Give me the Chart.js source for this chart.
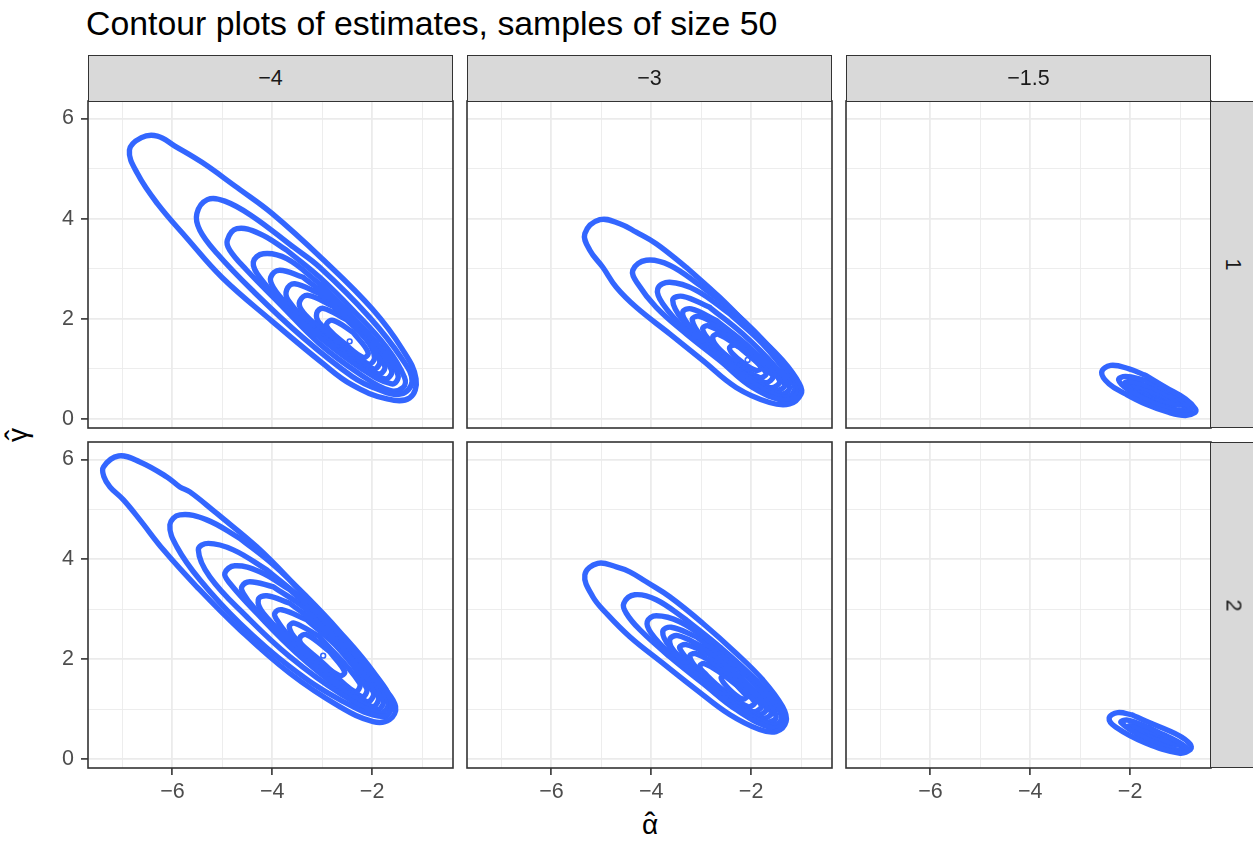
<!DOCTYPE html>
<html>
<head>
<meta charset="utf-8">
<script src="https://cdn.jsdelivr.net/npm/chart.js@4.4.1/dist/chart.umd.min.js"></script>
<style>
  html, body { margin: 0; padding: 0; background: #ffffff; }
  body { width: 1253px; height: 841px; position: relative; overflow: hidden;
         font-family: "Liberation Sans", Arial, Helvetica, sans-serif; }
  canvas { position: absolute; }
  .strip { position: absolute; background: #D9D9D9; border: 1.6px solid #333333; box-sizing: border-box;
           color: #1A1A1A; font-size: 21.5px; display: flex; align-items: center; justify-content: center; }
  .vtext { transform: rotate(90deg); white-space: nowrap; }
  #title { position: absolute; left: 86px; top: 6px; font-size: 33.8px; line-height: 34px; color: #000; white-space: nowrap; }
  #xtitle { position: absolute; left: 600px; width: 100px; top: 810px; text-align: center; font-size: 28px; line-height: 30px; color: #000; }
  #ytitle { position: absolute; left: -32px; width: 100px; top: 420px; text-align: center; font-size: 28px; line-height: 30px; color: #000; transform: rotate(-90deg); }
  .base { position: relative; display: inline-block; }
  .hat { position: absolute; left: 0; right: 0; top: -1px; text-align: center; font-size: 32px; }
</style>
</head>
<body>
<div id="title"></div>
<div id="xtitle"></div>
<div id="ytitle"></div>
<script>
// ---------------- data ----------------
const chartTitle = 'Contour plots of estimates, samples of size 50';
const xAxisTitle = ['α', 'ˆ'];   // alpha-hat
const yAxisTitle = ['γ', 'ˆ'];   // gamma-hat
const facetAlpha = ['\u22124', '\u22123', '\u22121.5'];   // column strips
const facetRow = ['1', '2'];                               // row strips
const xTickVals = [-7, -6, -5, -4, -3, -2, -1];
const xLabelVals = [-6, -4, -2];
const yTickVals = [0, 1, 2, 3, 4, 5, 6];
const yLabelVals = [0, 2, 4, 6];

// contour lines (alpha-hat, gamma-hat), panel alpha = -4, row 1
const contours_a4_s1 = [
  [[-6.86,5.37],[-6.62,5.62],[-6.3,5.65],[-5.95,5.45],[-5.4,5.12],[-4.7,4.62],[-4.0,4.1],[-3.0,3.2],[-2.0,2.2],[-1.4,1.4],[-1.12,0.8],[-1.25,0.42],[-1.7,0.4],[-2.4,0.68],[-3.0,1.12],[-4.0,1.95],[-5.0,2.82],[-5.7,3.6],[-6.3,4.3],[-6.7,4.9]],
  [[-5.51,4.1],[-5.3,4.38],[-4.95,4.35],[-4.4,4.05],[-3.6,3.45],[-3.05,3.03],[-2.05,2.03],[-1.4,1.2],[-1.2,0.75],[-1.42,0.5],[-1.9,0.6],[-2.4,0.85],[-3.4,1.64],[-4.4,2.57],[-5.1,3.3],[-5.45,3.77]],
  [[-4.9,3.57],[-4.71,3.8],[-4.25,3.7],[-3.71,3.37],[-3.05,2.83],[-2.38,2.17],[-1.71,1.43],[-1.35,0.83],[-1.38,0.63],[-1.65,0.57],[-2.25,0.9],[-3.05,1.5],[-3.85,2.3],[-4.51,2.97],[-4.85,3.37]],
  [[-4.38,3.13],[-4.18,3.3],[-3.71,3.2],[-3.05,2.7],[-2.38,2.03],[-1.78,1.37],[-1.48,0.87],[-1.61,0.7],[-2.25,1.03],[-3.05,1.63],[-3.71,2.23],[-4.25,2.83]],
  [[-4.03,2.83],[-3.85,2.97],[-3.38,2.83],[-2.71,2.3],[-2.05,1.63],[-1.61,0.97],[-1.75,0.8],[-2.38,1.17],[-3.05,1.7],[-3.71,2.3],[-3.98,2.63]],
  [[-3.71,2.58],[-3.55,2.7],[-3.05,2.5],[-2.38,1.88],[-1.75,1.07],[-1.88,0.9],[-2.51,1.3],[-3.18,1.83],[-3.68,2.37]],
  [[-3.45,2.35],[-3.28,2.47],[-2.78,2.25],[-2.25,1.75],[-1.85,1.17],[-1.98,1.0],[-2.58,1.43],[-3.18,1.93],[-3.41,2.17]],
  [[-3.11,2.11],[-2.98,2.21],[-2.51,1.98],[-2.11,1.58],[-1.95,1.23],[-2.08,1.1],[-2.58,1.5],[-3.05,1.91]],
  [[-2.91,1.9],[-2.78,1.97],[-2.38,1.73],[-2.08,1.33],[-2.18,1.23],[-2.58,1.53],[-2.85,1.77]]
];
const mode_a4_s1 = [-2.45, 1.55];

// panel alpha = -3, row 1
const contours_a3_s1 = [
  [[-5.33,3.7],[-5.03,3.98],[-4.63,3.9],[-4.3,3.73],[-3.9,3.5],[-3.3,3.03],[-2.63,2.43],[-1.97,1.77],[-1.37,1.17],[-1.03,0.7],[-1.0,0.5],[-1.23,0.3],[-1.63,0.33],[-2.3,0.63],[-2.97,1.17],[-3.63,1.7],[-4.3,2.23],[-4.7,2.63],[-4.97,3.03],[-5.23,3.37]],
  [[-4.37,2.97],[-4.1,3.17],[-3.63,3.07],[-2.97,2.63],[-2.3,2.1],[-1.63,1.43],[-1.13,0.77],[-1.07,0.53],[-1.3,0.37],[-1.97,0.63],[-2.63,1.17],[-3.3,1.7],[-3.9,2.23],[-4.27,2.7]],
  [[-3.87,2.6],[-3.63,2.73],[-3.1,2.57],[-2.43,2.1],[-1.77,1.5],[-1.23,0.83],[-1.13,0.57],[-1.37,0.43],[-1.97,0.73],[-2.63,1.23],[-3.3,1.77],[-3.77,2.3]],
  [[-3.57,2.37],[-3.37,2.45],[-2.83,2.23],[-2.17,1.7],[-1.5,1.03],[-1.23,0.63],[-1.43,0.5],[-2.1,0.87],[-2.83,1.43],[-3.37,1.97]],
  [[-3.37,2.13],[-3.2,2.2],[-2.7,1.97],[-2.03,1.43],[-1.33,0.7],[-1.53,0.57],[-2.23,0.97],[-2.97,1.57],[-3.27,1.9]],
  [[-3.18,1.98],[-3.03,2.05],[-2.57,1.8],[-1.9,1.23],[-1.43,0.77],[-1.63,0.63],[-2.37,1.1],[-2.97,1.63]],
  [[-2.97,1.8],[-2.85,1.86],[-2.37,1.6],[-1.57,0.87],[-1.73,0.73],[-2.43,1.2],[-2.83,1.57]],
  [[-2.77,1.63],[-2.65,1.69],[-2.23,1.43],[-1.7,0.93],[-1.83,0.83],[-2.37,1.17],[-2.67,1.43]],
  [[-2.43,1.43],[-2.3,1.47],[-2.03,1.3],[-1.8,1.03],[-1.9,0.97],[-2.17,1.13],[-2.37,1.3]]
];
const mode_a3_s1 = [-2.07, 1.18];

// panel alpha = -1.5, row 1
const contours_a15_s1 = [
  [[-2.57,0.93],[-2.39,1.07],[-2.02,1.0],[-1.69,0.87],[-1.29,0.63],[-0.89,0.4],[-0.69,0.2],[-0.7,0.13],[-0.89,0.07],[-1.22,0.13],[-1.69,0.3],[-2.09,0.5],[-2.42,0.7]],
  [[-2.23,0.78],[-2.09,0.85],[-1.69,0.77],[-1.15,0.5],[-0.79,0.2],[-0.95,0.13],[-1.49,0.3],[-2.02,0.57]],
  [[-2.1,0.71],[-1.99,0.75],[-1.55,0.63],[-0.85,0.23],[-1.02,0.17],[-1.69,0.4]],
  [[-1.99,0.67],[-1.49,0.53],[-0.95,0.27],[-1.62,0.4]],
  [[-1.85,0.6],[-1.4,0.47],[-1.02,0.28],[-1.5,0.37]],
  [[-1.7,0.52],[-1.3,0.42],[-1.08,0.3],[-1.4,0.36]]
];

// panel alpha = -4, row 2
const contours_a4_s2 = [
  [[-7.38,5.85],[-7.08,6.07],[-6.65,5.95],[-6.11,5.65],[-5.85,5.45],[-5.65,5.35],[-5.11,4.92],[-4.31,4.25],[-3.65,3.59],[-2.98,2.85],[-2.31,2.12],[-1.78,1.45],[-1.53,1.05],[-1.65,0.79],[-1.98,0.75],[-2.65,1.05],[-3.65,1.72],[-4.65,2.59],[-5.51,3.45],[-6.18,4.19],[-6.65,4.79],[-6.98,5.19],[-7.25,5.45],[-7.37,5.65]],
  [[-6.05,4.69],[-5.85,4.89],[-5.31,4.79],[-4.65,4.42],[-3.98,3.89],[-3.31,3.25],[-2.65,2.55],[-1.98,1.75],[-1.61,1.12],[-1.78,0.85],[-2.65,1.19],[-3.65,1.85],[-4.65,2.72],[-5.45,3.59],[-5.91,4.25]],
  [[-5.48,4.19],[-5.28,4.32],[-4.78,4.19],[-4.11,3.79],[-3.31,3.12],[-2.65,2.45],[-1.98,1.65],[-1.68,1.12],[-1.85,0.92],[-2.65,1.32],[-3.65,2.05],[-4.51,2.85],[-5.25,3.65]],
  [[-4.95,3.72],[-4.75,3.87],[-4.25,3.75],[-3.65,3.39],[-2.98,2.79],[-2.31,2.05],[-1.78,1.19],[-1.91,0.99],[-2.65,1.42],[-3.51,2.12],[-4.31,2.92],[-4.85,3.52]],
  [[-4.61,3.45],[-4.45,3.55],[-3.98,3.45],[-3.31,2.99],[-2.65,2.32],[-1.88,1.25],[-2.01,1.05],[-2.78,1.59],[-3.65,2.32],[-4.38,3.05],[-4.58,3.32]],
  [[-4.28,3.19],[-4.11,3.27],[-3.65,3.12],[-2.98,2.59],[-1.98,1.35],[-2.11,1.15],[-2.85,1.72],[-3.65,2.39],[-4.18,2.92]],
  [[-3.95,2.92],[-3.81,2.99],[-3.31,2.79],[-2.65,2.19],[-2.11,1.42],[-2.21,1.25],[-2.98,1.85],[-3.71,2.52],[-3.91,2.79]],
  [[-3.66,2.65],[-3.55,2.72],[-3.05,2.45],[-2.25,1.52],[-2.35,1.35],[-2.98,1.92],[-3.51,2.39]],
  [[-3.45,2.42],[-3.31,2.49],[-2.85,2.15],[-2.55,1.75],[-2.65,1.67],[-3.05,1.95],[-3.38,2.25]]
];
const mode_a4_s2 = [-2.98, 2.07];

// panel alpha = -3, row 2
const contours_a3_s2 = [
  [[-5.33,3.69],[-5.07,3.92],[-4.7,3.85],[-4.43,3.75],[-4.1,3.55],[-3.63,3.25],[-2.97,2.72],[-2.3,2.12],[-1.77,1.59],[-1.37,1.05],[-1.3,0.75],[-1.5,0.55],[-1.83,0.59],[-2.43,0.89],[-3.1,1.39],[-3.77,1.92],[-4.43,2.45],[-4.9,2.92],[-5.17,3.25]],
  [[-4.55,3.12],[-4.33,3.29],[-3.9,3.19],[-3.3,2.79],[-2.63,2.25],[-1.97,1.65],[-1.43,1.05],[-1.33,0.75],[-1.57,0.62],[-2.3,0.99],[-2.97,1.52],[-3.63,2.05],[-4.23,2.59],[-4.5,2.92]],
  [[-4.08,2.75],[-3.9,2.87],[-3.43,2.75],[-2.77,2.32],[-2.1,1.72],[-1.53,1.12],[-1.4,0.79],[-1.63,0.69],[-2.3,1.05],[-2.97,1.59],[-3.63,2.12],[-4.0,2.52]],
  [[-3.77,2.55],[-3.6,2.64],[-3.1,2.45],[-2.43,1.95],[-1.77,1.32],[-1.5,0.85],[-1.7,0.75],[-2.37,1.12],[-3.1,1.72],[-3.63,2.25]],
  [[-3.63,2.39],[-3.47,2.47],[-2.97,2.25],[-2.3,1.72],[-1.6,0.95],[-1.77,0.82],[-2.43,1.22],[-3.1,1.79],[-3.53,2.15]],
  [[-3.43,2.22],[-3.3,2.29],[-2.83,2.09],[-2.17,1.52],[-1.7,1.02],[-1.87,0.89],[-2.5,1.29],[-3.1,1.82]],
  [[-3.23,2.05],[-3.11,2.11],[-2.63,1.85],[-1.8,1.09],[-1.97,0.95],[-2.57,1.35],[-3.03,1.75]],
  [[-3.03,1.85],[-2.93,1.91],[-2.5,1.65],[-1.93,1.15],[-2.07,1.05],[-2.57,1.39],[-2.9,1.69]],
  [[-2.6,1.62],[-2.49,1.65],[-2.07,1.25],[-2.17,1.2],[-2.43,1.39]]
];

// panel alpha = -1.5, row 2
const contours_a15_s2 = [
  [[-2.42,0.82],[-2.25,0.93],[-1.95,0.88],[-1.69,0.76],[-1.02,0.47],[-0.8,0.3],[-0.79,0.19],[-1.02,0.12],[-1.69,0.32],[-2.29,0.64]],
  [[-2.18,0.73],[-2.05,0.78],[-1.6,0.62],[-0.88,0.24],[-1.02,0.17],[-1.7,0.42]],
  [[-2.02,0.67],[-1.5,0.52],[-0.95,0.26],[-1.6,0.42]],
  [[-1.85,0.6],[-1.4,0.46],[-1.0,0.28],[-1.5,0.38]],
  [[-1.65,0.52],[-1.3,0.41],[-1.06,0.29],[-1.35,0.36]]
];

// ---------------- layout ----------------
const FONT = '"Liberation Sans", Arial, Helvetica, sans-serif';
const LINE_COLOR = '#3366FF';
const GRID = '#EBEBEB';
const X_MIN = -7.69, X_MAX = -0.38, Y_MIN = -0.18, Y_MAX = 6.35;
const PANEL_LEFT = [88, 467, 846], PANEL_W = 365;
const PANEL_TOP = [101, 442], PANEL_H = [327, 326];
const STRIP_TOP = 55, STRIP_W = 45;
const M = 40, YAXIS_W = 60, XAXIS_H = 50;

const panels = [[contours_a4_s1, contours_a3_s1, contours_a15_s1],
                [contours_a4_s2, contours_a3_s2, contours_a15_s2]];
const modes = [[mode_a4_s1, mode_a3_s1, null], [mode_a4_s2, null, null]];

document.getElementById('title').textContent = chartTitle;
function hatted(el, parts) {
  const b = document.createElement('span');
  b.className = 'base';
  b.textContent = parts[0];
  const h = document.createElement('span');
  h.className = 'hat';
  h.textContent = parts[1];
  b.appendChild(h);
  el.appendChild(b);
}
hatted(document.getElementById('xtitle'), xAxisTitle);
hatted(document.getElementById('ytitle'), yAxisTitle);

const fmt = v => (v < 0 ? '\u2212' + Math.abs(v) : String(v));

const borderPlugin = {
  id: 'panelBorder',
  afterDraw(chart) {
    const { ctx, chartArea: a } = chart;
    ctx.save();
    ctx.strokeStyle = '#333333';
    ctx.lineWidth = 1.6;
    ctx.strokeRect(a.left, a.top, a.right - a.left, a.bottom - a.top);
    ctx.restore();
  }
};

function closedLoop(pts) {
  const k = Math.max(2, Math.floor(pts.length / 4)) % pts.length;
  const rot = pts.slice(k).concat(pts.slice(0, k));
  rot.push(rot[0]);
  return rot.map(([x, y]) => ({ x, y }));
}

for (let r = 0; r < 2; r++) {
  for (let c = 0; c < 3; c++) {
    const yw = c === 0 ? YAXIS_W : 0;
    const xh = r === 1 ? XAXIS_H : 0;
    const cv = document.createElement('canvas');
    cv.width = M + yw + PANEL_W + M;
    cv.height = M + PANEL_H[r] + xh + M;
    cv.style.left = (PANEL_LEFT[c] - yw - M) + 'px';
    cv.style.top = (PANEL_TOP[r] - M) + 'px';
    document.body.appendChild(cv);

    const datasets = panels[r][c].map(pts => ({
      data: closedLoop(pts),
      showLine: true,
      borderColor: LINE_COLOR,
      borderWidth: 5.4,
      pointRadius: 0,
      tension: 0.4,
      fill: false,
      borderJoinStyle: 'round',
      borderCapStyle: 'round'
    }));
    if (modes[r][c]) {
      datasets.push({
        data: [{ x: modes[r][c][0], y: modes[r][c][1] }],
        showLine: false,
        pointRadius: 2.4,
        pointBorderWidth: 1.6,
        pointBorderColor: LINE_COLOR,
        pointBackgroundColor: '#ffffff'
      });
    }

    new Chart(cv, {
      type: 'scatter',
      data: { datasets },
      plugins: [borderPlugin],
      options: {
        responsive: false,
        animation: false,
        events: [],
        layout: { padding: { left: M, right: M, top: M, bottom: M } },
        plugins: { legend: { display: false }, tooltip: { enabled: false } },
        scales: {
          x: {
            type: 'linear', position: 'bottom', min: X_MIN, max: X_MAX,
            afterBuildTicks: s => { s.ticks = xTickVals.map(v => ({ value: v })); },
            afterFit: s => { s.height = xh; },
            border: { display: false },
            grid: {
              color: GRID,
              lineWidth: ctx => (ctx.tick && ctx.tick.value % 2 === 0) ? 1.8 : 0.9,
              drawTicks: r === 1,
              tickLength: 7,
              tickWidth: 1.6,
              tickColor: ctx => (ctx.tick && xLabelVals.includes(ctx.tick.value)) ? '#333333' : 'rgba(0,0,0,0)'
            },
            ticks: {
              display: r === 1, autoSkip: false, maxRotation: 0, minRotation: 0, padding: 4,
              color: '#4D4D4D', font: { family: FONT, size: 21.5 },
              callback: v => xLabelVals.includes(v) ? fmt(v) : ''
            }
          },
          y: {
            type: 'linear', position: 'left', min: Y_MIN, max: Y_MAX,
            afterBuildTicks: s => { s.ticks = yTickVals.map(v => ({ value: v })); },
            afterFit: s => { s.width = yw; },
            border: { display: false },
            grid: {
              color: GRID,
              lineWidth: ctx => (ctx.tick && ctx.tick.value % 2 === 0) ? 1.8 : 0.9,
              drawTicks: c === 0,
              tickLength: 7,
              tickWidth: 1.6,
              tickColor: ctx => (ctx.tick && yLabelVals.includes(ctx.tick.value)) ? '#333333' : 'rgba(0,0,0,0)'
            },
            ticks: {
              display: c === 0, autoSkip: false, padding: 7,
              color: '#4D4D4D', font: { family: FONT, size: 21.5 },
              callback: v => yLabelVals.includes(v) ? fmt(v) : ''
            }
          }
        }
      }
    });
  }
}

// strips (facet labels)
for (let c = 0; c < 3; c++) {
  const d = document.createElement('div');
  d.className = 'strip';
  d.style.left = PANEL_LEFT[c] + 'px';
  d.style.top = STRIP_TOP + 'px';
  d.style.width = PANEL_W + 'px';
  d.style.height = (PANEL_TOP[0] - STRIP_TOP + 1) + 'px';
  d.textContent = facetAlpha[c];
  document.body.appendChild(d);
}
for (let r = 0; r < 2; r++) {
  const d = document.createElement('div');
  d.className = 'strip';
  d.style.left = (PANEL_LEFT[2] + PANEL_W - 1) + 'px';
  d.style.top = PANEL_TOP[r] + 'px';
  d.style.width = STRIP_W + 'px';
  d.style.height = PANEL_H[r] + 'px';
  const s = document.createElement('span');
  s.className = 'vtext';
  s.textContent = facetRow[r];
  d.appendChild(s);
  document.body.appendChild(d);
}
</script>
</body>
</html>
